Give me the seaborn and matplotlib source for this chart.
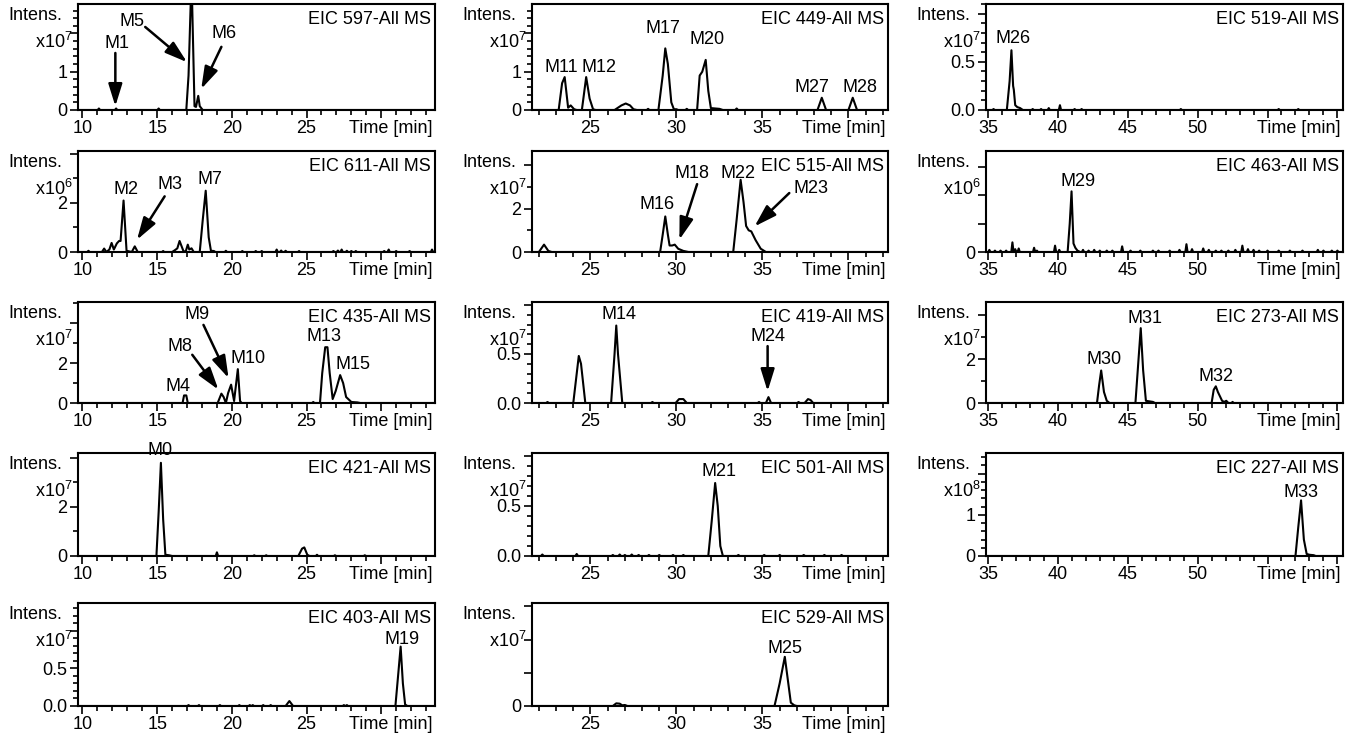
import numpy as np
import pandas as pd
import seaborn as sns
import matplotlib.pyplot as plt
from matplotlib.ticker import MultipleLocator, FixedLocator

sns.set_theme(style="ticks")
plt.rcParams['font.family'] = ['Liberation Sans', 'DejaVu Sans']
plt.rcParams['text.color'] = 'black'
plt.rcParams['xtick.color'] = 'black'
plt.rcParams['ytick.color'] = 'black'
plt.rcParams['axes.edgecolor'] = 'black'

## Chromatogram data (time in min, intensity in units of 10^exp)
# EIC 597
t_597 = [9.7, 16.95, 17.1, 17.3, 17.5, 17.6, 17.75, 17.85, 18.05, 33.6]
i_597 = [0, 0, 0.9, 3.5, 0.1, 0.08, 0.37, 0.1, 0, 0]
bt_597 = [11.1, 12.25, 15.1]
bh_597 = [0.04, 0.04, 0.04]

# EIC 449
t_449 = [21.6, 23.15, 23.35, 23.5, 23.7, 23.85, 24.05, 24.2, 24.5, 24.75, 24.95, 25.15, 25.3,
         26.4, 26.8, 27.05, 27.3, 27.5, 27.7, 28.95, 29.2, 29.35, 29.5, 29.7, 29.85, 30.0, 30.1,
         31.2, 31.35, 31.5, 31.7, 31.85, 32.0, 32.5, 32.7, 38.2, 38.45, 38.7, 40.0, 40.25, 40.5, 42.3]
i_449 = [0, 0, 0.7, 0.86, 0.06, 0.12, 0.02, 0, 0, 0.86, 0.3, 0.02, 0,
         0, 0.12, 0.17, 0.12, 0.02, 0, 0, 0.9, 1.61, 1.2, 0.2, 0.02, 0.02, 0,
         0, 0.9, 1.0, 1.31, 0.5, 0.05, 0.03, 0, 0, 0.32, 0, 0, 0.32, 0, 0]
bt_449 = [28.35, 30.6, 33.5]
bh_449 = [0.03, 0.03, 0.04]

# EIC 519
t_519 = [34.86, 36.35, 36.55, 36.68, 36.8, 36.85, 36.95, 37.1, 37.3, 37.5, 60.4]
i_519 = [0, 0, 0.3, 0.62, 0.25, 0.21, 0.05, 0.03, 0.02, 0, 0]
bt_519 = [35.4, 38.2, 38.8, 39.35, 40.15, 41.2, 41.7, 48.8, 55.8, 57.2]
bh_519 = [0.01, 0.01, 0.01, 0.02, 0.05, 0.01, 0.01, 0.01, 0.01, 0.01]

# EIC 611
t_611 = [9.7, 11.3, 11.45, 11.6, 11.8, 11.95, 12.1, 12.3, 12.45, 12.55, 12.75, 12.95, 13.3, 13.5, 13.7,
         16.0, 16.2, 16.35, 16.5, 16.75, 16.9, 17.05, 17.15, 17.3, 17.45,
         17.85, 18.05, 18.25, 18.45, 18.6, 18.8, 18.9, 33.6]
i_611 = [0, 0, 0.14, 0, 0.1, 0.37, 0.1, 0.35, 0.45, 0.45, 2.1, 0.05, 0, 0.23, 0,
         0, 0.08, 0.15, 0.45, 0.05, 0, 0.3, 0.1, 0.15, 0,
         0, 1.3, 2.5, 0.6, 0.05, 0.04, 0, 0]
bt_611 = [10.4, 15.4, 19.6, 20.7, 21.6, 22.0, 23.0, 23.3, 23.6, 24.5, 26.8, 27.1, 27.35, 27.7,
          28.0, 28.3, 30.2, 30.5, 31.0, 31.9, 33.4]
bh_611 = [0.05, 0.04, 0.05, 0.04, 0.04, 0.04, 0.1, 0.06, 0.05, 0.04, 0.04, 0.06, 0.1, 0.05,
          0.04, 0.04, 0.04, 0.1, 0.04, 0.04, 0.1]

# EIC 515
t_515 = [21.6, 22.0, 22.3, 22.55, 22.75, 29.05, 29.2, 29.35, 29.5, 29.6, 29.75, 29.9, 30.1, 30.4, 30.7,
         33.3, 33.5, 33.73, 33.9, 34.05, 34.2, 34.35, 34.6, 34.9, 35.2, 42.3]
i_515 = [0, 0, 0.34, 0.05, 0, 0, 0.8, 1.64, 0.8, 0.3, 0.3, 0.34, 0.15, 0.05, 0,
         0, 1.5, 3.33, 2.3, 1.2, 1.0, 0.95, 0.55, 0.15, 0, 0]
bt_515 = []
bh_515 = []

# EIC 463
t_463 = [34.86, 40.7, 40.85, 40.98, 41.12, 41.25, 41.4, 41.6, 60.4]
i_463 = [0, 0, 2.0, 4.28, 0.6, 0.3, 0.1, 0, 0]
bt_463 = [35.1, 35.5, 35.9, 36.3, 36.75, 36.95, 37.2, 38.3, 38.5, 39.8, 40.1, 41.8, 42.2, 42.6, 43.0,
          43.5, 43.9, 44.6, 45.2, 45.9, 46.8, 47.2, 48.0, 48.7, 49.2, 49.6, 50.4, 50.8, 51.3, 51.7,
          52.2, 52.7, 53.2, 53.6, 54.0, 54.4, 55.0, 55.8, 56.6, 57.5, 58.6, 59.0, 59.6, 60.0]
bh_463 = [0.15, 0.1, 0.1, 0.1, 0.68, 0.2, 0.25, 0.3, 0.1, 0.45, 0.15, 0.15, 0.1, 0.15, 0.1,
          0.1, 0.1, 0.4, 0.1, 0.1, 0.1, 0.1, 0.1, 0.15, 0.55, 0.2, 0.25, 0.15, 0.1, 0.1,
          0.1, 0.15, 0.45, 0.2, 0.15, 0.1, 0.1, 0.1, 0.1, 0.1, 0.15, 0.1, 0.1, 0.1]

# EIC 435
t_435 = [9.7, 16.7, 16.8, 16.95, 17.05, 19.05, 19.3, 19.45, 19.6, 19.75, 19.95, 20.15, 20.4, 20.55, 20.65,
         25.9, 26.05, 26.25, 26.4, 26.55, 26.75, 26.95, 27.25, 27.45, 27.65, 28.0, 28.4, 28.6, 33.6]
i_435 = [0, 0, 0.38, 0.38, 0, 0, 0.47, 0.3, 0, 0.5, 0.92, 0.1, 1.7, 0.1, 0,
         0, 1.5, 2.8, 2.8, 1.5, 0.2, 0.6, 1.4, 1.0, 0.3, 0.05, 0.03, 0, 0]
bt_435 = [25.45]
bh_435 = [0.05]

# EIC 419
t_419 = [21.6, 24.0, 24.2, 24.32, 24.45, 24.7, 26.2, 26.4, 26.5, 26.6, 26.85, 29.95, 30.15, 30.4, 30.6,
         35.2, 35.35, 35.5, 37.45, 37.65, 37.8, 37.95, 42.3]
i_419 = [0, 0, 0.3, 0.48, 0.4, 0, 0, 0.5, 0.79, 0.5, 0, 0, 0.04, 0.04, 0,
         0, 0.06, 0, 0, 0.04, 0.03, 0, 0]
bt_419 = [22.5, 28.6, 34.8, 37.1]
bh_419 = [0.01, 0.01, 0.01, 0.01]

# EIC 273
t_273 = [34.86, 42.8, 42.95, 43.1, 43.3, 43.5, 43.7, 45.55, 45.75, 45.93, 46.1, 46.3, 46.8, 46.95,
         51.0, 51.15, 51.3, 51.45, 51.6, 51.75, 51.9, 52.05, 52.2, 60.4]
i_273 = [0, 0, 0.8, 1.48, 0.5, 0.1, 0, 0, 1.8, 3.41, 1.5, 0.1, 0.05, 0,
         0, 0.6, 0.76, 0.5, 0.3, 0.1, 0.05, 0.1, 0, 0]
bt_273 = [52.5]
bh_273 = [0.05]

# EIC 421
t_421 = [9.7, 14.95, 15.1, 15.25, 15.4, 15.55, 15.8, 16.0, 24.45, 24.7, 24.85, 25.05, 25.2, 33.6]
i_421 = [0, 0, 1.8, 3.8, 1.5, 0.05, 0.03, 0, 0, 0.3, 0.35, 0.05, 0, 0]
bt_421 = [19.0, 21.5, 22.3, 25.7, 26.9, 28.9]
bh_421 = [0.15, 0.03, 0.03, 0.05, 0.03, 0.03]

# EIC 501
t_501 = [21.6, 31.85, 32.05, 32.25, 32.4, 32.55, 32.7, 42.3]
i_501 = [0, 0, 0.35, 0.73, 0.5, 0.1, 0, 0]
bt_501 = [22.2, 24.2, 26.3, 26.7, 27.0, 27.4, 27.8, 28.4, 29.0, 29.8, 30.4, 33.6, 35.1, 36.0, 37.4,
          38.6, 39.6]
bh_501 = [0.015, 0.02, 0.01, 0.015, 0.01, 0.015, 0.01, 0.01, 0.01, 0.01, 0.01, 0.01, 0.01, 0.01,
          0.01, 0.01, 0.01]

# EIC 227
t_227 = [34.86, 57.0, 57.2, 57.4, 57.6, 57.8, 58.0, 58.3, 58.45, 60.4]
i_227 = [0, 0, 0.7, 1.35, 0.4, 0.05, 0.03, 0.02, 0, 0]
bt_227 = []
bh_227 = []

# EIC 403
t_403 = [9.7, 23.6, 23.85, 24.1, 30.95, 31.15, 31.3, 31.45, 31.6, 31.75, 33.6]
i_403 = [0, 0, 0.066, 0, 0, 0.45, 0.79, 0.3, 0.02, 0, 0]
bt_403 = [17.1, 17.8, 19.2, 20.5, 21.2, 21.4, 22.1, 22.6, 27.5, 27.7]
bh_403 = [0.012] * 10

# EIC 529
t_529 = [21.6, 26.3, 26.5, 26.7, 26.85, 27.0, 27.15, 35.7, 36.0, 36.3, 36.65, 36.85, 37.0, 42.3]
i_529 = [0, 0, 0.08, 0.07, 0.02, 0.03, 0, 0, 0.68, 1.48, 0.1, 0.02, 0, 0]
bt_529 = []
bh_529 = []

## Panel descriptions (row major)
eic_mz = ["597", "449", "519", "611", "515", "463", "435", "419", "273", "421", "501", "227", "403", "529"]
exponents = [7, 7, 7, 6, 7, 6, 7, 7, 7, 7, 7, 8, 7, 7]
y_max = [2.77, 2.77, 1.1, 4.12, 4.66, 7.13, 5.07, 1.03, 4.6, 4.2, 1.03, 2.5, 1.37, 3.1]
y_major = [[0, 1, 2], [0, 1, 2], [0, 0.5, 1.0], [0, 2, 4], [0, 2, 4], [0, 2, 4, 6], [0, 2, 4],
           [0, 0.5, 1.0], [0, 2, 4], [0, 2, 4], [0, 0.5, 1.0], [0, 1, 2], [0, 0.5, 1.0], [0, 1, 2, 3]]
y_labels = [["0", "1", ""], ["0", "1", ""], ["0.0", "0.5", ""], ["0", "2", ""], ["0", "2", ""],
            ["0", "", "", ""], ["0", "2", ""], ["0.0", "0.5", ""], ["0", "2", ""], ["0", "2", ""],
            ["0.0", "0.5", ""], ["0", "1", ""], ["0.0", "0.5", ""], ["0", "", "", ""]]
y_minor = [0.2, 0.2, 0.1, 1, 1, None, 1, 0.1, 1, 1, 0.1, 0.2, 0.1, None]

traces = {
    "597": (t_597, i_597, bt_597, bh_597), "449": (t_449, i_449, bt_449, bh_449),
    "519": (t_519, i_519, bt_519, bh_519), "611": (t_611, i_611, bt_611, bh_611),
    "515": (t_515, i_515, bt_515, bh_515), "463": (t_463, i_463, bt_463, bh_463),
    "435": (t_435, i_435, bt_435, bh_435), "419": (t_419, i_419, bt_419, bh_419),
    "273": (t_273, i_273, bt_273, bh_273), "421": (t_421, i_421, bt_421, bh_421),
    "501": (t_501, i_501, bt_501, bh_501), "227": (t_227, i_227, bt_227, bh_227),
    "403": (t_403, i_403, bt_403, bh_403), "529": (t_529, i_529, bt_529, bh_529),
}

# peak labels (name, time, intensity) and arrows (tail t, tail y, tip t, tip y)
peak_labels = {
    "597": [("M1", 12.3, 1.75), ("M5", 13.3, 2.3), ("M6", 19.5, 2.0)],
    "449": [("M11", 23.3, 1.12), ("M12", 25.5, 1.12), ("M17", 29.2, 2.14), ("M20", 31.8, 1.83),
            ("M27", 37.9, 0.6), ("M28", 40.7, 0.6)],
    "519": [("M26", 36.8, 0.74)],
    "611": [("M2", 12.9, 2.54), ("M3", 15.85, 2.74), ("M7", 18.55, 2.95)],
    "515": [("M16", 28.85, 2.18), ("M18", 30.9, 3.6), ("M22", 33.6, 3.64), ("M23", 37.8, 2.95)],
    "463": [("M29", 41.45, 4.98)],
    "435": [("M4", 16.4, 0.83), ("M8", 16.5, 2.83), ("M9", 17.7, 4.42), ("M10", 21.1, 2.25),
            ("M13", 26.2, 3.33), ("M15", 28.1, 1.92)],
    "419": [("M14", 26.64, 0.9), ("M24", 35.3, 0.68)],
    "273": [("M30", 43.3, 1.97), ("M31", 46.2, 3.86), ("M32", 51.3, 1.21)],
    "421": [("M0", 15.2, 4.3)],
    "501": [("M21", 32.5, 0.85)],
    "227": [("M33", 57.4, 1.53)],
    "403": [("M19", 31.4, 0.88)],
    "529": [("M25", 36.3, 1.73)],
}
peak_arrows = {
    "597": [(12.2, 1.49, 12.2, 0.1), (14.2, 2.17, 17.0, 1.25), (19.3, 1.65, 17.95, 0.55)],
    "611": [(15.5, 2.27, 13.65, 0.5)],
    "515": [(31.2, 3.13, 30.17, 0.57), (36.56, 2.72, 34.54, 1.18)],
    "435": [(17.35, 2.42, 19.1, 0.67), (18.1, 3.92, 19.78, 1.25)],
    "419": [(35.3, 0.58, 35.3, 0.12)],
}

## Layout
col_xlim = [(9.7, 33.6), (21.6, 42.3), (34.86, 60.4)]
col_xmajor = [[10, 15, 20, 25, 30], [25, 30, 35, 40], [35, 40, 45, 50, 55, 60]]
col_left_px = [78, 532, 986]
col_width_px = [357, 356, 357]
row_top_px = [4, 151, 302, 453, 603]
row_bottom_px = [110, 252, 403, 556, 706]
W, H = 1355, 740

fig = plt.figure(figsize=(W / 100, H / 100), dpi=100)
FS = 13

for k, mz in enumerate(eic_mz):
    r, c = divmod(k, 3)
    rect = [col_left_px[c] / W, 1 - row_bottom_px[r] / H,
            col_width_px[c] / W, (row_bottom_px[r] - row_top_px[r]) / H]
    ax = fig.add_axes(rect)

    t, i, bt, bh = traces[mz]
    pts = list(zip(t, i))
    for cen, h in zip(bt, bh):
        pts += [(cen - 0.08, 0), (cen, h), (cen + 0.08, 0)]
    pts.sort()
    df = pd.DataFrame(pts, columns=["time", "intens"])
    sns.lineplot(data=df, x="time", y="intens", ax=ax, color="black", lw=1.5,
                 sort=False, estimator=None)

    ax.set_xlim(col_xlim[c])
    ax.set_ylim(0, y_max[k])
    ax.set_xlabel("")
    ax.set_ylabel("")

    xm = col_xmajor[c]
    ax.xaxis.set_major_locator(FixedLocator(xm))
    ax.set_xticklabels([str(v) for v in xm[:-1]] + [""] if c != 2 else
                       [str(v) for v in xm[:-2]] + ["", ""])
    ax.xaxis.set_minor_locator(MultipleLocator(1))
    ax.yaxis.set_major_locator(FixedLocator(y_major[k]))
    ax.set_yticklabels(y_labels[k])
    if y_minor[k]:
        ax.yaxis.set_minor_locator(MultipleLocator(y_minor[k]))

    ax.tick_params(which="major", direction="out", length=6, width=1.2, labelsize=FS, pad=1.5,
                   color="black", labelcolor="black")
    ax.tick_params(which="minor", direction="out", length=3.5, width=1.2, color="black")
    for s in ax.spines.values():
        s.set_visible(True)
        s.set_linewidth(1.5)
        s.set_color("black")

    ax.annotate("Time [min]", xy=(1, 0), xycoords="axes fraction", xytext=(-2, -7.5),
                textcoords="offset points", ha="right", va="top", fontsize=FS, color="black")
    ax.annotate(f"EIC {mz}-All MS", xy=(1, 1), xycoords="axes fraction", xytext=(-3, -5),
                textcoords="offset points", ha="right", va="top", fontsize=FS, color="black")
    ax.annotate("Intens.", xy=(0, 1), xycoords="axes fraction", xytext=(-11, -8),
                textcoords="offset points", ha="right", va="center", fontsize=FS, color="black")
    ax.annotate("x10$^\\mathregular{%d}$" % exponents[k], xy=(0, 1), xycoords="axes fraction",
                xytext=(-4, -27), textcoords="offset points", ha="right", va="center",
                fontsize=FS, color="black")

    for name, pt, py in peak_labels.get(mz, []):
        ax.text(pt, py, name, ha="center", va="center", fontsize=FS, color="black")
    for t0, y0, t1, y1 in peak_arrows.get(mz, []):
        ax.annotate("", xy=(t1, y1), xytext=(t0, y0),
                    arrowprops=dict(arrowstyle="-|>,head_length=0.9,head_width=0.28",
                                    mutation_scale=15, color="black", lw=1.8,
                                    shrinkA=0, shrinkB=0))

fig.savefig("out.png", dpi=100, facecolor="white")
